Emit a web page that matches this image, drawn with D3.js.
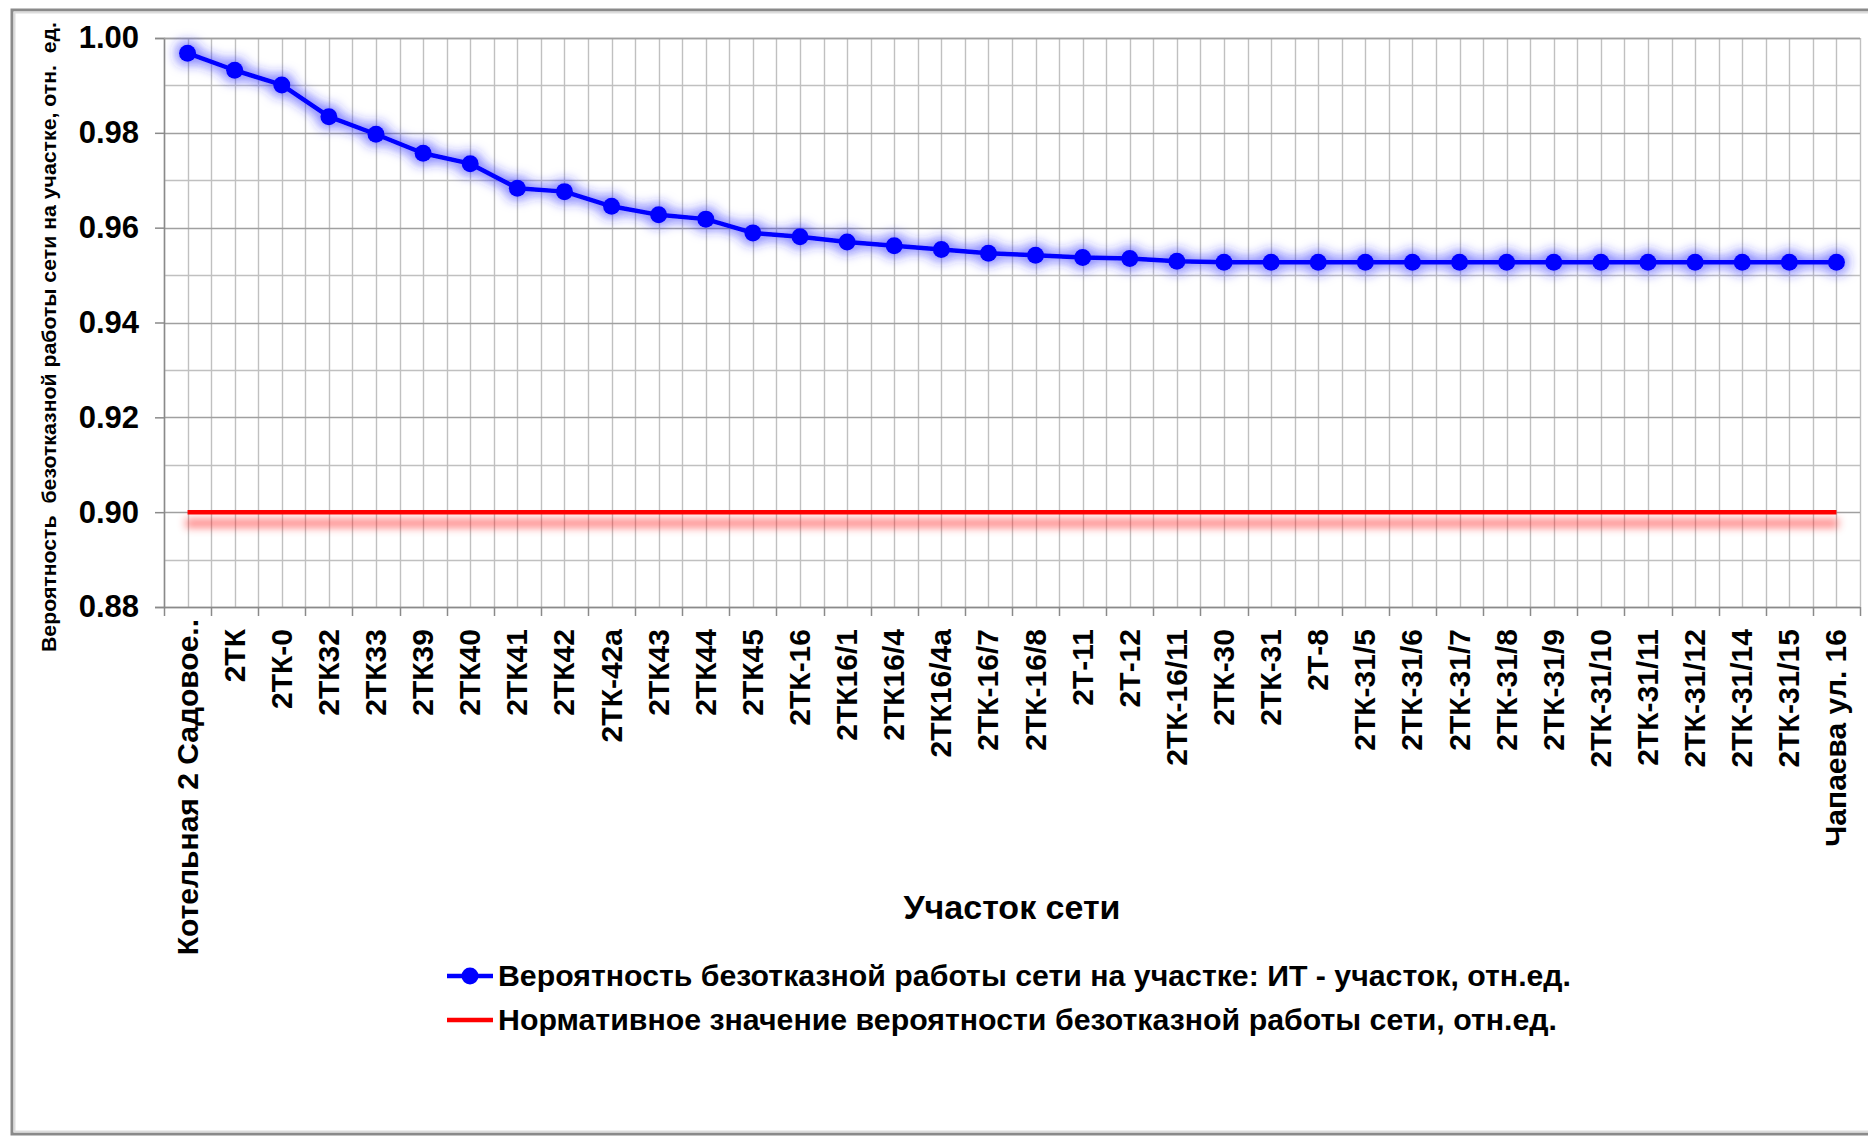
<!DOCTYPE html>
<html>
<head>
<meta charset="utf-8">
<script src="https://cdn.jsdelivr.net/npm/d3@7/dist/d3.min.js"></script>
<style>
  html, body { margin: 0; padding: 0; background: #ffffff; }
  svg { display: block; }
  text { font-family: "Liberation Sans", Arial, sans-serif; }
</style>
</head>
<body>
<svg id="chart" width="1868" height="1139"></svg>
<script>
// ---------- data ----------
const categories = [
  "Котельная 2 Садовое..", "2ТК", "2ТК-0", "2ТК32", "2ТК33", "2ТК39", "2ТК40", "2ТК41", "2ТК42",
  "2ТК-42а", "2ТК43", "2ТК44", "2ТК45", "2ТК-16", "2ТК16/1", "2ТК16/4", "2ТК16/4а", "2ТК-16/7",
  "2ТК-16/8", "2Т-11", "2Т-12", "2ТК-16/11", "2ТК-30", "2ТК-31", "2Т-8", "2ТК-31/5", "2ТК-31/6",
  "2ТК-31/7", "2ТК-31/8", "2ТК-31/9", "2ТК-31/10", "2ТК-31/11", "2ТК-31/12", "2ТК-31/14",
  "2ТК-31/15", "Чапаева ул. 16"
];
const reliability = [
  0.9968, 0.9932, 0.9901, 0.9834, 0.9797, 0.9757, 0.9735, 0.9683, 0.9676,
  0.9645, 0.9627, 0.9618, 0.9589, 0.9581, 0.9570, 0.9562, 0.9554, 0.9546,
  0.9542, 0.9537, 0.9535, 0.9529, 0.9527, 0.9527, 0.9527, 0.9527, 0.9527,
  0.9527, 0.9527, 0.9527, 0.9527, 0.9527, 0.9527, 0.9527, 0.9527, 0.9527
];
const normative = [
  0.90, 0.90, 0.90, 0.90, 0.90, 0.90, 0.90, 0.90, 0.90,
  0.90, 0.90, 0.90, 0.90, 0.90, 0.90, 0.90, 0.90, 0.90,
  0.90, 0.90, 0.90, 0.90, 0.90, 0.90, 0.90, 0.90, 0.90,
  0.90, 0.90, 0.90, 0.90, 0.90, 0.90, 0.90, 0.90, 0.90
];
const yTickValues = [0.88, 0.90, 0.92, 0.94, 0.96, 0.98, 1.00];
const yMinorValues = [0.89, 0.91, 0.93, 0.95, 0.97, 0.99];
const yTitle = "Вероятность  безотказной работы сети на участке, отн.  ед.";
const xTitle = "Участок сети";
const legendLabels = [
  "Вероятность безотказной работы сети на участке: ИТ - участок, отн.ед.",
  "Нормативное значение вероятности безотказной работы сети, отн.ед."
];

// ---------- layout ----------
const W = 1868, H = 1139;
const plot = { left: 164, right: 1860, top: 38, bottom: 607 };

const svg = d3.select("#chart");
const defs = svg.append("defs");

// glow filter for blue series
const glow = defs.append("filter").attr("id", "glow")
  .attr("filterUnits", "userSpaceOnUse")
  .attr("x", 100).attr("y", 0).attr("width", 1800).attr("height", 400);
glow.append("feMorphology").attr("in", "SourceAlpha").attr("operator", "dilate").attr("radius", 3).attr("result", "d");
glow.append("feGaussianBlur").attr("in", "d").attr("stdDeviation", 6).attr("result", "b");
glow.append("feFlood").attr("flood-color", "#2a2aff").attr("flood-opacity", 0.6).attr("result", "c");
glow.append("feComposite").attr("in", "c").attr("in2", "b").attr("operator", "in").attr("result", "g");
const gm = glow.append("feMerge");
gm.append("feMergeNode").attr("in", "g");
gm.append("feMergeNode").attr("in", "SourceGraphic");

// shadow filter for red series
const sh = defs.append("filter").attr("id", "redshadow")
  .attr("filterUnits", "userSpaceOnUse")
  .attr("x", 100).attr("y", 450).attr("width", 1800).attr("height", 150);
sh.append("feOffset").attr("in", "SourceAlpha").attr("dy", 11).attr("result", "o");
sh.append("feMorphology").attr("in", "o").attr("operator", "dilate").attr("radius", 2).attr("result", "od");
sh.append("feGaussianBlur").attr("in", "od").attr("stdDeviation", 4).attr("result", "b");
sh.append("feFlood").attr("flood-color", "#ff1010").attr("flood-opacity", 0.5).attr("result", "c");
sh.append("feComposite").attr("in", "c").attr("in2", "b").attr("operator", "in").attr("result", "s");
const sm = sh.append("feMerge");
sm.append("feMergeNode").attr("in", "s");
sm.append("feMergeNode").attr("in", "SourceGraphic");

// background + outer frame
svg.append("rect").attr("x", 0).attr("y", 0).attr("width", W).attr("height", H).attr("fill", "#ffffff");
svg.append("rect").attr("x", 12).attr("y", 10).attr("width", W + 20).attr("height", 1124)
  .attr("fill", "none").attr("stroke", "#8a8a8a").attr("stroke-width", 3);
svg.append("rect").attr("x", 14.5).attr("y", 12.5).attr("width", W + 20).attr("height", 1119)
  .attr("fill", "none").attr("stroke", "#dcdcdc").attr("stroke-width", 2);

// scales
const x = d3.scaleBand().domain(categories).range([plot.left, plot.right]).padding(0);
const cx = d => x(d) + x.bandwidth() / 2;
const y = d3.scaleLinear().domain([0.88, 1.00]).range([plot.bottom, plot.top]);

// grid: vertical lines at category boundaries and centers
const grid = svg.append("g");
const vLines = [];
categories.forEach(c => { vLines.push(x(c)); vLines.push(cx(c)); });
vLines.push(plot.right);
grid.selectAll("line.v").data(vLines).enter().append("line")
  .attr("x1", d => Math.round(d) + 0.5).attr("x2", d => Math.round(d) + 0.5)
  .attr("y1", plot.top).attr("y2", plot.bottom)
  .attr("stroke", "#c0c0c0").attr("stroke-width", 1.4);
grid.selectAll("line.hm").data(yMinorValues).enter().append("line")
  .attr("x1", plot.left).attr("x2", plot.right)
  .attr("y1", d => Math.round(y(d)) + 0.5).attr("y2", d => Math.round(y(d)) + 0.5)
  .attr("stroke", "#c0c0c0").attr("stroke-width", 1.4);
grid.selectAll("line.hM").data(yTickValues).enter().append("line")
  .attr("x1", plot.left).attr("x2", plot.right)
  .attr("y1", d => Math.round(y(d)) + 0.5).attr("y2", d => Math.round(y(d)) + 0.5)
  .attr("stroke", "#a0a0a0").attr("stroke-width", 1.6);

// y axis
const yAxis = d3.axisLeft(y).tickValues(yTickValues).tickFormat(d3.format(".2f"))
  .tickSize(9).tickPadding(16);
const gy = svg.append("g").attr("transform", `translate(${plot.left},0)`).call(yAxis);
gy.select(".domain").attr("stroke", "#8a8a8a").attr("stroke-width", 1.5);
gy.selectAll(".tick line").attr("stroke", "#8a8a8a").attr("stroke-width", 1.5);
gy.selectAll(".tick text").attr("font-size", 31).attr("font-weight", "bold")
  .attr("fill", "#000").attr("font-family", "'Liberation Sans', Arial, sans-serif");

// x axis (ticks at category boundaries)
const gx = svg.append("g").attr("transform", `translate(0,${plot.bottom})`);
gx.append("line").attr("x1", plot.left).attr("x2", plot.right).attr("y1", 0.5).attr("y2", 0.5)
  .attr("stroke", "#8a8a8a").attr("stroke-width", 1.5);
const bounds = categories.map(c => x(c)).concat([plot.right]);
gx.selectAll("line.t").data(bounds).enter().append("line")
  .attr("x1", d => Math.round(d) + 0.5).attr("x2", d => Math.round(d) + 0.5)
  .attr("y1", 0).attr("y2", 9).attr("stroke", "#8a8a8a").attr("stroke-width", 1.5);
gx.selectAll("text").data(categories).enter().append("text")
  .attr("transform", (d, i) => `translate(${cx(d) + 10},${i === 0 ? 12 : 22}) rotate(-90)`)
  .attr("text-anchor", "end")
  .attr("font-size", 30).attr("font-weight", "bold").attr("fill", "#000")
  .text(d => d);

// plot border top
svg.append("line").attr("x1", plot.left).attr("x2", plot.right).attr("y1", plot.top + 0.5).attr("y2", plot.top + 0.5)
  .attr("stroke", "#a0a0a0").attr("stroke-width", 1.6);

// normative line (red)
const lineGen = d3.line().x((d, i) => cx(categories[i])).y(d => y(d));
svg.append("g").attr("filter", "url(#redshadow)")
  .append("path").datum(normative).attr("d", lineGen)
  .attr("fill", "none").attr("stroke", "#ff0000").attr("stroke-width", 4.5);

// reliability series (blue)
const gb = svg.append("g").attr("filter", "url(#glow)");
gb.append("path").datum(reliability).attr("d", lineGen)
  .attr("fill", "none").attr("stroke", "#0000ff").attr("stroke-width", 4.5)
  .attr("stroke-linejoin", "round");
gb.selectAll("circle").data(reliability).enter().append("circle")
  .attr("cx", (d, i) => cx(categories[i])).attr("cy", d => y(d)).attr("r", 8.5)
  .attr("fill", "#0000ff");

// axis titles
svg.append("text")
  .attr("transform", `translate(56,337) rotate(-90)`)
  .attr("text-anchor", "middle")
  .attr("font-size", 21).attr("font-weight", "bold").attr("fill", "#000")
  .attr("textLength", 630).attr("lengthAdjust", "spacingAndGlyphs")
  .style("white-space", "pre")
  .text(yTitle);
svg.append("text")
  .attr("x", (plot.left + plot.right) / 2).attr("y", 919)
  .attr("text-anchor", "middle")
  .attr("font-size", 34).attr("font-weight", "bold").attr("fill", "#000")
  .text(xTitle);

// legend
const lg = svg.append("g");
const legY = [976, 1020];
lg.append("line").attr("x1", 447).attr("x2", 493).attr("y1", legY[0]).attr("y2", legY[0])
  .attr("stroke", "#0000ff").attr("stroke-width", 4.5);
lg.append("circle").attr("cx", 470).attr("cy", legY[0]).attr("r", 8.5).attr("fill", "#0000ff");
lg.append("line").attr("x1", 447).attr("x2", 493).attr("y1", legY[1]).attr("y2", legY[1])
  .attr("stroke", "#ff0000").attr("stroke-width", 4.5);
const legLen = [1073, 1059];
legendLabels.forEach((t, i) => {
  lg.append("text").attr("x", 498).attr("y", legY[i] + 10)
    .attr("font-size", 30).attr("font-weight", "bold").attr("fill", "#000")
    .attr("textLength", legLen[i]).attr("lengthAdjust", "spacingAndGlyphs")
    .text(t);
});
</script>
</body>
</html>
